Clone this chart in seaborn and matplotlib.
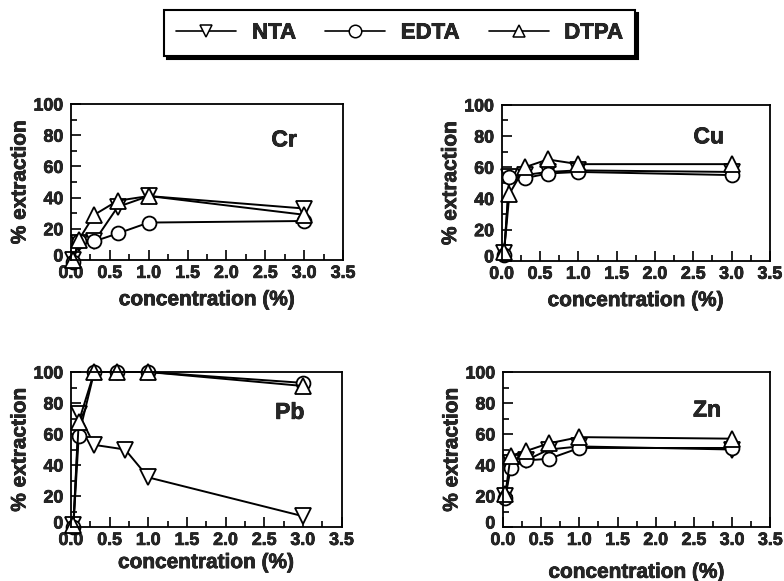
import matplotlib
matplotlib.use("Agg")
import matplotlib.pyplot as plt
from matplotlib.lines import Line2D
from matplotlib.ticker import FormatStrFormatter
from matplotlib.transforms import ScaledTranslation
import matplotlib.patheffects as pe
import seaborn as sns
import pandas as pd

sns.set_theme(style="white")
plt.rcParams['font.family'] = ['Liberation Sans', 'DejaVu Sans']
plt.rcParams['font.weight'] = 'bold'

agents = ["NTA", "EDTA", "DTPA"]
markers = {"NTA": "v", "EDTA": "o", "DTPA": "^"}

conc = [0.03, 0.1, 0.3, 0.6, 1.0, 3.0]
conc_pb_nta = [0.03, 0.1, 0.3, 0.7, 1.0, 3.0]

cr_nta = [0, 11, 12, 34, 41, 33]
cr_edta = [-1, 12, 12, 17, 24, 25]
cr_dtpa = [0, 13, 29, 38, 41, 29]

cu_nta = [5, 54, 55, 57, 58, 57]
cu_edta = [4, 54, 53, 56, 57, 55]
cu_dtpa = [6, 43, 60, 65, 62, 62]

pb_nta = [1, 73, 53, 50, 32, 7]
pb_edta = [0, 59, 100, 100, 100, 93]
pb_dtpa = [1, 68, 100, 100, 100, 91]

zn_nta = [20, 41, 43, 50, 52, 50]
zn_edta = [19, 38, 43, 44, 51, 51]
zn_dtpa = [21, 46, 49, 54, 58, 57]

x_major = [0.0, 0.5, 1.0, 1.5, 2.0, 2.5, 3.0, 3.5]
x_minor = [0.25, 0.75, 1.25, 1.75, 2.25, 2.75, 3.25]
y_major = [0, 20, 40, 60, 80, 100]
y_minor = [10, 30, 50, 70, 90]

panels = [
    ("Cr", {"NTA": (conc, cr_nta), "EDTA": (conc, cr_edta), "DTPA": (conc, cr_dtpa)}),
    ("Cu", {"NTA": (conc, cu_nta), "EDTA": (conc, cu_edta), "DTPA": (conc, cu_dtpa)}),
    ("Pb", {"NTA": (conc_pb_nta, pb_nta), "EDTA": (conc, pb_edta), "DTPA": (conc, pb_dtpa)}),
    ("Zn", {"NTA": (conc, zn_nta), "EDTA": (conc, zn_edta), "DTPA": (conc, zn_dtpa)}),
]

rects = [
    [0.0906, 0.5525, 0.347, 0.2685],
    [0.640, 0.551, 0.342, 0.2685],
    [0.0906, 0.0929, 0.345, 0.2668],
    [0.6416, 0.0929, 0.341, 0.2668],
]
label_pos = {"Cr": (2.74, 77), "Cu": (2.70, 79.5), "Pb": (2.83, 74), "Zn": (2.67, 75.5)}
xlabelpads = {"Cr": 6, "Cu": 6, "Pb": 3, "Zn": 10}

bold_fx = [pe.withStroke(linewidth=0.5, foreground="black")]

fig = plt.figure(figsize=(7.84, 5.81), dpi=100)
fig.patch.set_facecolor("white")
nudge = ScaledTranslation(0, 5 / 100, fig.dpi_scale_trans)

for (name, series), rect in zip(panels, rects):
    ax = fig.add_axes(rect)
    rows = []
    for ag in agents:
        xs, ys = series[ag]
        for x, y in zip(xs, ys):
            rows.append({"agent": ag, "conc": x, "ext": y})
    df = pd.DataFrame(rows)
    for ag in agents:
        sub = df[df["agent"] == ag]
        sns.lineplot(data=sub, x="conc", y="ext", ax=ax, color="black",
                     marker=markers[ag], ms=11 if ag != "EDTA" else 10,
                     mfc="white", mec="black", mew=1.3, lw=1.4,
                     errorbar=None, sort=True, legend=False, clip_on=False)
    ax.set_xlim(0, 3.5)
    ax.set_ylim(0, 100)
    ax.set_xticks(x_major)
    ax.set_xticks(x_minor, minor=True)
    ax.set_yticks(y_major)
    ax.set_yticks(y_minor, minor=True)
    ax.xaxis.set_major_formatter(FormatStrFormatter("%.1f"))
    ax.tick_params(which="both", direction="in", top=False, right=False,
                   bottom=True, left=True, color="black", width=1.2)
    ax.tick_params(which="major", length=7, labelsize=12.8)
    ax.tick_params(axis="x", which="major", pad=3.5)
    ax.tick_params(axis="y", which="major", pad=5.5)
    ax.tick_params(which="minor", length=4)
    for lab in ax.get_xticklabels() + ax.get_yticklabels():
        lab.set_fontweight("bold")
        lab.set_path_effects(bold_fx)
    # raise the "0" label on the y axis slightly, as in the reference
    ytick0 = ax.yaxis.get_major_ticks()[0]
    ytick0.label1.set_transform(ytick0.label1.get_transform() + nudge)
    for sp in ax.spines.values():
        sp.set_visible(True)
        sp.set_color("black")
        sp.set_linewidth(1.3)
    xl = ax.set_xlabel("concentration (%)", fontsize=15, fontweight="bold",
                       labelpad=xlabelpads[name])
    yl = ax.set_ylabel("% extraction", fontsize=15, fontweight="bold", labelpad=3)
    xl.set_path_effects(bold_fx)
    yl.set_path_effects(bold_fx)
    tx, ty = label_pos[name]
    t = ax.text(tx, ty, name, fontsize=16.5, fontweight="bold", ha="center", va="center")
    t.set_path_effects(bold_fx)
    ax.grid(False)
    ax.set_facecolor("white")

handles = [Line2D([], [], color="black", lw=1.2, marker=markers[ag], ms=9,
                  mfc="white", mec="black", mew=1.1) for ag in agents]
leg = fig.legend(handles, agents, loc="center", bbox_to_anchor=(0.51, 0.943),
                 ncol=3, frameon=True, fancybox=False,
                 shadow={"color": "black", "alpha": 1},
                 edgecolor="black", handlelength=2.7, handletextpad=0.7,
                 columnspacing=1.3, borderpad=0.55,
                 prop={"family": "Liberation Sans", "weight": "bold", "size": 16})
leg.get_frame().set_linewidth(1.5)
for txt in leg.get_texts():
    txt.set_path_effects(bold_fx)

fig.savefig("out.png", dpi=100, facecolor="white")
